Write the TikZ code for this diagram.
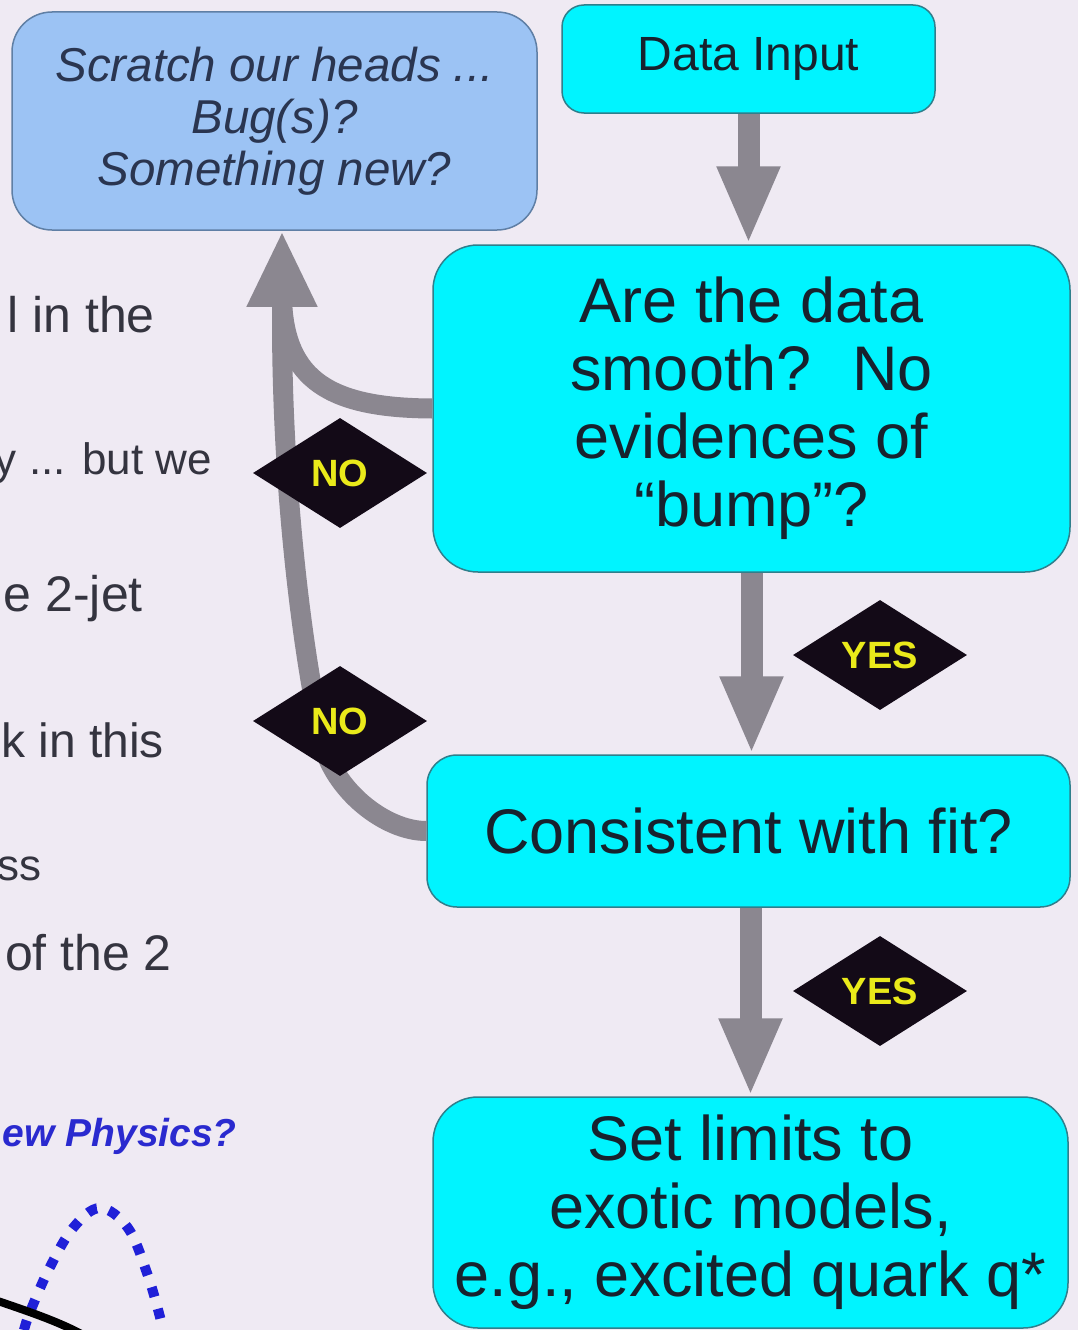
\documentclass[tikz,border=0pt]{standalone}
\usepackage{fontspec}
\setmainfont{Liberation Sans}
\usetikzlibrary{shapes.geometric,arrows.meta}
\definecolor{bg}{HTML}{EFEAF3}
\definecolor{cyanbox}{HTML}{00F4FF}
\definecolor{cyanedge}{HTML}{2F7F8C}
\definecolor{bluebox}{HTML}{9CC3F4}
\definecolor{blueedge}{HTML}{5F7FA5}
\definecolor{arrowgray}{HTML}{8B8790}
\definecolor{boxtext}{HTML}{17222E}
\definecolor{scratchtext}{HTML}{2A3550}
\definecolor{diamondfill}{HTML}{130A17}
\definecolor{yestext}{HTML}{EAEA1A}
\definecolor{sidetext}{HTML}{34343F}
\definecolor{physblue}{HTML}{2A2ACF}
\definecolor{dotblue}{HTML}{2020D8}
\begin{document}
\begin{tikzpicture}[x=1pt,y=-1pt,
  box/.style={draw=cyanedge, line width=1.5pt, fill=cyanbox, text=boxtext,
    align=center, inner sep=0pt, font=\fontsize{63}{68}\selectfont},
  scratchbox/.style={draw=blueedge, line width=1.5pt, fill=bluebox, text=scratchtext,
    align=center, inner sep=0pt, rounded corners=40pt,
    font=\itshape\fontsize{47.5}{52}\selectfont},
  flow/.style={draw=arrowgray, line width=22pt, -{Triangle[length=78pt, width=58pt]}},
  flowup/.style={draw=arrowgray, line width=20pt, -{Triangle[length=76pt, width=65pt]}},
  flowline/.style={draw=arrowgray, line width=20pt},
  decision/.style={diamond, fill=diamondfill, minimum width=174pt, minimum height=110pt,
    inner sep=0pt, aspect=1.58, text=yestext, font=\bfseries\fontsize{38}{40}\selectfont},
  side/.style={text=sidetext, anchor=base east, inner sep=0pt, font=\fontsize{50}{52}\selectfont},
  sidesmall/.style={side, font=\fontsize{44}{46}\selectfont}
]
\useasboundingbox (0,0) rectangle (1078,1330);
\fill[bg] (0,0) rectangle (1078,1330);

% left-side text fragments
\node[side] (t1) at (155,332) {l in the};
\node[sidesmall] (t2) at (212,474) {y ... but we};
\node[side] (t3) at (143,611) {e 2-jet};
\node[side, font=\fontsize{48}{50}\selectfont] (t4) at (164,757) {k in this};
\node[sidesmall] (t5) at (42,880) {ss};
\node[side] (t6) at (172,970) {of the 2};
\node[anchor=base east, inner sep=0pt, text=physblue,
  font=\bfseries\itshape\fontsize{39}{41}\selectfont] (t7) at (237,1146) {ew Physics?};

% bottom-left plot fragments
\draw[dotblue, line width=10pt, dash pattern=on 10pt off 12.5pt]
  plot[smooth, tension=0.6] coordinates {(24,1330) (30,1312) (49,1269) (73,1228) (100,1208) (128,1228) (147,1273) (160,1317) (162,1330)};
\draw[black, line width=8pt] (-5,1300) .. controls (30,1312) and (60,1322) .. (85,1336);

% boxes
\node[scratchbox, minimum width=525pt, minimum height=218pt] (scratch) at (274.5,121)
  {Scratch our heads ...\\Bug(s)?\\Something new?};
\node[box, rounded corners=22pt, minimum width=373pt, minimum height=108pt,
  font=\fontsize{48}{52}\selectfont] (input) at (748.5,59) {Data Input};
\node[box, rounded corners=45pt, minimum width=637pt, minimum height=327pt] (smooth)
  at (751.5,408.5) {Are the data\\smooth?~ No\\evidences of\\“bump”?};
\node[box, rounded corners=30pt, minimum width=643pt, minimum height=152pt] (fit)
  at (748.5,831) {Consistent with fit?};
\node[box, rounded corners=45pt, minimum width=635pt, minimum height=231pt] (limits)
  at (750.5,1212.5) {Set limits to\\exotic models,\\e.g., excited quark q*};

% connectors
\draw[flow] (input.south) -- (input.south |- smooth.north);
\draw[flow] (smooth.south) -- (smooth.south |- fit.north);
\draw[flow] ([xshift=2pt]fit.south) -- ([xshift=2pt]fit.south |- limits.north);
\draw[flowline] (smooth.west) .. controls (330,408) and (285,380) .. (282,300);
\draw[flowup] (fit.west) .. controls (385,831) and (333,790) .. (322,740)
  .. controls (300,640) and (282,480) .. (282,320) -- ([xshift=7.5pt]scratch.south);

% decision labels
\node[decision] (no1) at (340,473) {NO};
\node[decision] (no2) at (340,721) {NO};
\node[decision] (yes1) at (880,655) {YES};
\node[decision] (yes2) at (880,991) {YES};
\end{tikzpicture}
\end{document}
